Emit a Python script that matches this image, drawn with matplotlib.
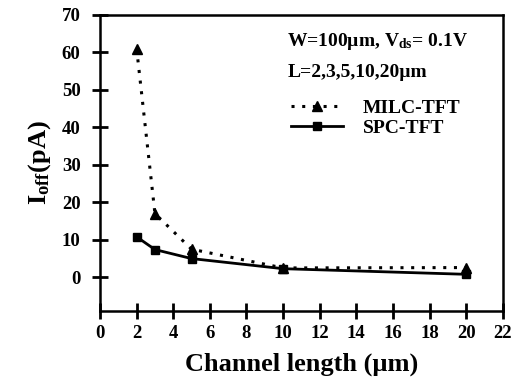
import numpy as np
from matplotlib import pyplot as plt

# channel lengths (um) and off-current (pA)
length = [2, 3, 5, 10, 20]
milc = [61, 17, 7.5, 2.5, 2.6]
spc = [10.8, 7.4, 5.0, 2.3, 0.8]

xticks = list(range(0, 23, 2))
yticks = list(range(0, 71, 10))

plt.rcParams['font.family'] = ['Liberation Serif', 'DejaVu Serif']
plt.rcParams['font.weight'] = 'bold'
plt.rcParams['axes.labelweight'] = 'bold'
plt.rcParams['mathtext.fontset'] = 'custom'
plt.rcParams['mathtext.rm'] = 'Liberation Serif:bold'
plt.rcParams['mathtext.it'] = 'Liberation Serif:bold'

fig = plt.figure(figsize=(5.13, 3.84), dpi=100)
ax = fig.add_axes([0.195, 0.19, 0.785, 0.771])

ax.plot(length, milc, color='black', linestyle=(0, (1, 2.5)), linewidth=2.2,
        marker='^', markersize=7, label='MILC-TFT')
ax.plot(length, spc, color='black', linestyle='-', linewidth=2.0,
        marker='s', markersize=6, label='SPC-TFT')

ax.set_xlim(0, 22)
ax.set_ylim(-9, 70)
ax.set_xticks(xticks)
ax.set_yticks(yticks)
ax.tick_params(direction='inout', length=12, width=2, labelsize=13.5)
ax.tick_params(axis='y', pad=8)
ax.tick_params(axis='x', pad=4)
for s in ax.spines.values():
    s.set_linewidth(1.8)

ax.set_xlabel('Channel length (µm)', fontsize=19, labelpad=8)
ax.set_ylabel('I$_{off}$(pA)', fontsize=19, labelpad=6)

ax.text(0.465, 0.895, 'W=100µm, V$_{ds}$= 0.1V', transform=ax.transAxes, fontsize=14)
ax.text(0.465, 0.79, 'L=2,3,5,10,20µm', transform=ax.transAxes, fontsize=14)

ax.legend(loc='upper left', bbox_to_anchor=(0.43, 0.775), frameon=False,
          fontsize=14, handlelength=2.7, labelspacing=0.15, handletextpad=1.0)

fig.savefig('out.png', dpi=100)
